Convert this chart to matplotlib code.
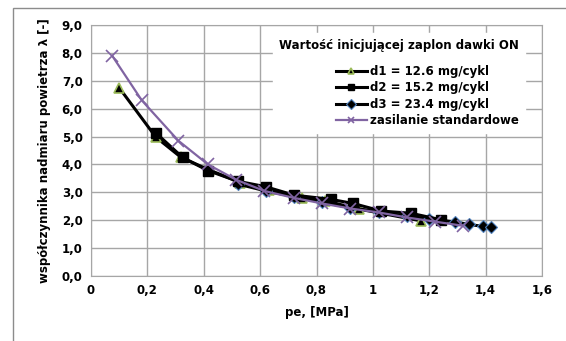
import matplotlib
matplotlib.use('Agg')
import matplotlib.pyplot as plt
from matplotlib.patches import Rectangle
from matplotlib.ticker import FuncFormatter

# data
pe_d1 = [0.10, 0.23, 0.32, 0.42, 0.53, 0.63, 0.75, 0.83, 0.95, 1.17]
lam_d1 = [6.75, 4.98, 4.25, 3.80, 3.35, 3.10, 2.80, 2.70, 2.40, 1.98]

pe_d2 = [0.23, 0.325, 0.415, 0.52, 0.62, 0.72, 0.85, 0.93, 1.03, 1.135, 1.24]
lam_d2 = [5.13, 4.25, 3.78, 3.40, 3.20, 2.90, 2.75, 2.60, 2.33, 2.25, 2.02]

pe_d3 = [0.52, 0.62, 0.72, 0.82, 0.92, 1.02, 1.12, 1.20, 1.29, 1.34, 1.39, 1.42]
lam_d3 = [3.30, 3.05, 2.85, 2.65, 2.45, 2.30, 2.15, 2.05, 1.94, 1.85, 1.78, 1.75]

pe_std = [0.075, 0.18, 0.31, 0.415, 0.515, 0.615, 0.72, 0.82, 0.92, 1.02, 1.12, 1.22, 1.32]
lam_std = [7.90, 6.30, 4.85, 4.00, 3.45, 3.05, 2.80, 2.60, 2.42, 2.28, 2.10, 1.95, 1.80]

labels = ['d1 = 12.6 mg/cykl', 'd2 = 15.2 mg/cykl', 'd3 = 23.4 mg/cykl', 'zasilanie standardowe']
legend_title = 'Wartość inicjującej zaplon dawki ON'

plt.rcParams['font.family'] = ['DejaVu Sans']
plt.rcParams['font.weight'] = 'bold'

fig = plt.figure(figsize=(5.66, 3.41), dpi=100)
ax = fig.add_axes([91 / 566, 1 - 276 / 341, 451 / 566, 251 / 341])

# outer chart frame
fig.patches.append(Rectangle((13 / 566, -0.1), 1.2, 1 - 8 / 341 + 0.1, transform=fig.transFigure,
                             fill=False, edgecolor='#8c8c8c', linewidth=1.0))

ax.plot(pe_d1, lam_d1, '-', color='black', linewidth=2.2, marker='^', markersize=7,
        markerfacecolor='black', markeredgecolor='#9bbb59', markeredgewidth=1.2, label=labels[0], zorder=3)
ax.plot(pe_d2, lam_d2, '-', color='black', linewidth=2.2, marker='s', markersize=7.5,
        markerfacecolor='black', markeredgecolor='black', label=labels[1], zorder=4)
ax.plot(pe_d3, lam_d3, '-', color='black', linewidth=2.2, marker='D', markersize=6,
        markerfacecolor='black', markeredgecolor='#4f81bd', markeredgewidth=0.8, label=labels[2], zorder=3.5)
ax.plot(pe_std, lam_std, '-', color='#8064a2', linewidth=1.6, marker='x', markersize=8,
        markeredgewidth=1.2, label=labels[3], zorder=5)

ax.set_xlim(0, 1.6)
ax.set_ylim(0, 9)
ax.set_xticks([0, 0.2, 0.4, 0.6, 0.8, 1.0, 1.2, 1.4, 1.6])
ax.set_yticks(range(10))
ax.xaxis.set_major_formatter(FuncFormatter(lambda v, p: ('%g' % round(v, 1)).replace('.', ',')))
ax.yaxis.set_major_formatter(FuncFormatter(lambda v, p: ('%.1f' % v).replace('.', ',')))
ax.tick_params(length=0, labelsize=8.5, pad=6)
for lab in ax.get_xticklabels() + ax.get_yticklabels():
    lab.set_fontweight('bold')

ax.grid(True, color='#a6a6a6', linewidth=1.0)
ax.set_axisbelow(True)
for s in ax.spines.values():
    s.set_color('#a6a6a6')

ax.set_xlabel('pe, [MPa]', fontsize=8.5, fontweight='bold', labelpad=6)
ax.set_ylabel('współczynnika nadmiaru powietrza λ [-]', fontsize=8.5, fontweight='bold', labelpad=8)

leg = ax.legend(loc='upper right', bbox_to_anchor=(0.975, 0.99), title=legend_title,
                frameon=True, fancybox=False, fontsize=8.5, handlelength=2.6,
                handletextpad=0.3, labelspacing=0.3, borderpad=0.5)
leg.get_frame().set_edgecolor('white')
leg.get_frame().set_alpha(1.0)
leg.get_title().set_fontweight('bold')
leg.get_title().set_fontsize(8.5)
leg._legend_box.align = 'right'
leg._legend_box.sep = 9
for h in leg.legend_handles:
    h.set_markersize(5)

fig.savefig('out.png', dpi=100)
